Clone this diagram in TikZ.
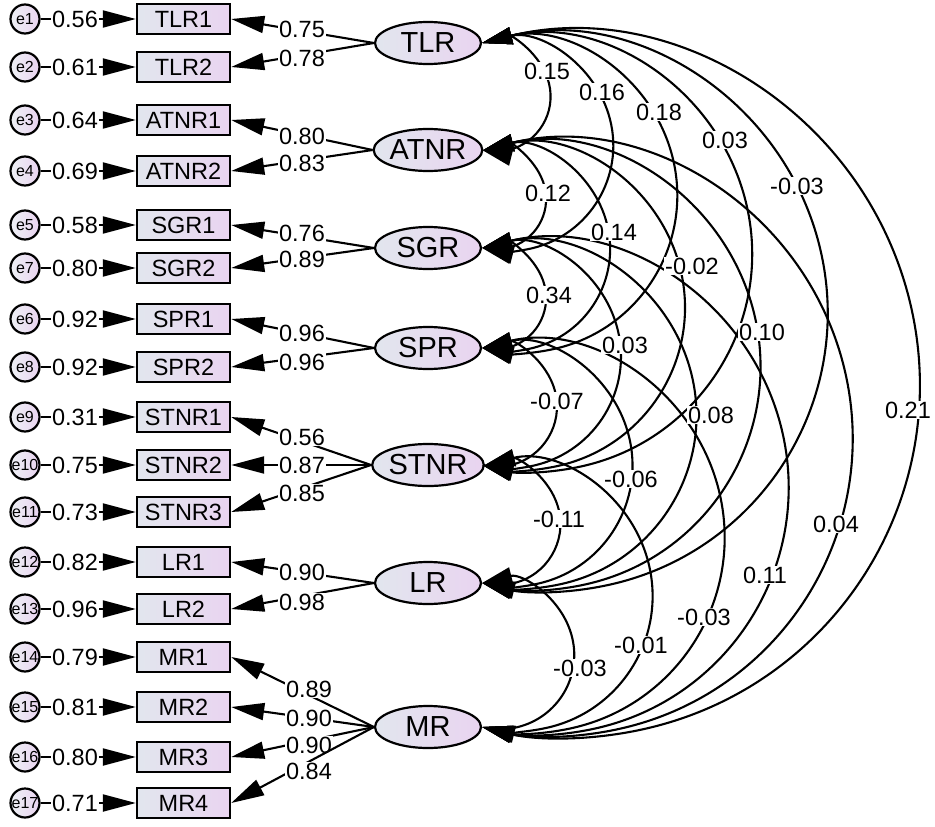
\documentclass[tikz,border=0pt]{standalone}
\usepackage{fontspec}
\setmainfont{Liberation Sans}
\usetikzlibrary{arrows.meta,calc,shapes.geometric}
\definecolor{gfl}{RGB}{226,230,238}
\definecolor{gfr}{RGB}{233,212,240}
\newcommand\covar[5]{%
  \draw[cov] let \p1=(#1.east), \p2=(#2.east), \n1={0.5153*(\y1-\y2)} in
    (#1.east) arc[start angle=104, end angle=-104, radius=\n1];
  \node[lab] (c#1#2) at (#4,#5) {#3};}
\newcommand\loading[5]{%
  \draw[arr] (#1.west) -- (#2.east);
  \node[lab] (l#2) at (#4,#5) {#3};}
\newcommand\errvar[4]{%
  \node[errc] (#1) at (25,#4) {#1};
  \draw[arr] (#1) -- (#2);
  \node[lab] (l#1) at (75,#4) {#3};}
\newcommand\obs[2]{\node[obsbox] (#1) at (183.5,#2) {#1};}
\newcommand\lat[2]{\node[latent] (#1) at (428,#2) {#1};}
\begin{document}
\begin{tikzpicture}[x=1pt,y=-1pt,
  arr/.style={line width=2.1pt,-{Triangle[length=33pt,width=17pt]}},
  cov/.style={line width=2.1pt,{Triangle[length=30pt,width=17pt]}-{Triangle[length=30pt,width=17pt]}},
  lab/.style={fill=white,inner sep=1pt,font=\fontsize{23.5}{27}\selectfont},
  obsbox/.style={draw,line width=2.4pt,left color=gfl,right color=gfr,minimum width=93pt,minimum height=30pt,inner sep=0pt,font=\fontsize{23.5}{27}\selectfont},
  latent/.style={ellipse,draw,line width=2.2pt,left color=gfl,right color=gfr,minimum width=106pt,minimum height=42pt,inner sep=0pt,font=\fontsize{29}{32}\selectfont},
  errc/.style={circle,draw,line width=2.2pt,left color=gfl!60,right color=gfr,minimum size=29pt,inner sep=0pt,font=\fontsize{16}{18}\selectfont}]
\useasboundingbox (0,0) rectangle (935,827);
% latent variables
\lat{TLR}{43}
\lat{ATNR}{150}
\lat{SGR}{248}
\lat{SPR}{348}
\lat{STNR}{465}
\lat{LR}{583}
\lat{MR}{727}
% observed variables
\obs{TLR1}{19}
\obs{TLR2}{67}
\obs{ATNR1}{120}
\obs{ATNR2}{171}
\obs{SGR1}{225}
\obs{SGR2}{268}
\obs{SPR1}{319}
\obs{SPR2}{367}
\obs{STNR1}{417}
\obs{STNR2}{465}
\obs{STNR3}{512}
\obs{LR1}{562}
\obs{LR2}{609}
\obs{MR1}{657}
\obs{MR2}{707}
\obs{MR3}{757}
\obs{MR4}{803}
% errors
\errvar{e1}{TLR1}{0.56}{19}
\errvar{e2}{TLR2}{0.61}{67}
\errvar{e3}{ATNR1}{0.64}{120}
\errvar{e4}{ATNR2}{0.69}{171}
\errvar{e5}{SGR1}{0.58}{225}
\errvar{e7}{SGR2}{0.80}{268}
\errvar{e6}{SPR1}{0.92}{319}
\errvar{e8}{SPR2}{0.92}{367}
\errvar{e9}{STNR1}{0.31}{417}
\errvar{e10}{STNR2}{0.75}{465}
\errvar{e11}{STNR3}{0.73}{512}
\errvar{e12}{LR1}{0.82}{562}
\errvar{e13}{LR2}{0.96}{609}
\errvar{e14}{MR1}{0.79}{657}
\errvar{e15}{MR2}{0.81}{707}
\errvar{e16}{MR3}{0.80}{757}
\errvar{e17}{MR4}{0.71}{803}
% loadings
\loading{TLR}{TLR1}{0.75}{302}{29}
\loading{TLR}{TLR2}{0.78}{302}{58}
\loading{ATNR}{ATNR1}{0.80}{302}{136}
\loading{ATNR}{ATNR2}{0.83}{302}{163}
\loading{SGR}{SGR1}{0.76}{302}{233}
\loading{SGR}{SGR2}{0.89}{302}{259}
\loading{SPR}{SPR1}{0.96}{302}{333}
\loading{SPR}{SPR2}{0.96}{302}{362}
\loading{STNR}{STNR1}{0.56}{302}{437}
\loading{STNR}{STNR2}{0.87}{302}{465}
\loading{STNR}{STNR3}{0.85}{302}{493}
\loading{LR}{LR1}{0.90}{302}{572}
\loading{LR}{LR2}{0.98}{302}{602}
\loading{MR}{MR1}{0.89}{309}{689}
\loading{MR}{MR2}{0.90}{309}{718}
\loading{MR}{MR3}{0.90}{309}{745}
\loading{MR}{MR4}{0.84}{309}{771}
% covariances
\covar{TLR}{MR}{0.21}{908}{410}
\covar{TLR}{LR}{-0.03}{797}{186}
\covar{ATNR}{MR}{0.04}{836}{524}
\covar{TLR}{STNR}{0.03}{725}{140}
\covar{SGR}{MR}{0.11}{765}{575}
\covar{ATNR}{LR}{0.10}{762}{332}
\covar{TLR}{SPR}{0.18}{659}{112}
\covar{SPR}{MR}{-0.03}{704}{617}
\covar{SGR}{LR}{0.08}{711}{415}
\covar{ATNR}{STNR}{-0.02}{692}{266}
\covar{TLR}{SGR}{0.16}{602}{92}
\covar{STNR}{MR}{-0.01}{641}{645}
\covar{SPR}{LR}{-0.06}{631}{479}
\covar{SGR}{STNR}{0.03}{625}{345}
\covar{ATNR}{SPR}{0.14}{614}{232}
\covar{LR}{MR}{-0.03}{580}{668}
\covar{STNR}{LR}{-0.11}{559}{519}
\covar{SPR}{STNR}{-0.07}{557}{401}
\covar{SGR}{SPR}{0.34}{549}{295}
\covar{ATNR}{SGR}{0.12}{548}{193}
\covar{TLR}{ATNR}{0.15}{547}{71}
\end{tikzpicture}
\end{document}
